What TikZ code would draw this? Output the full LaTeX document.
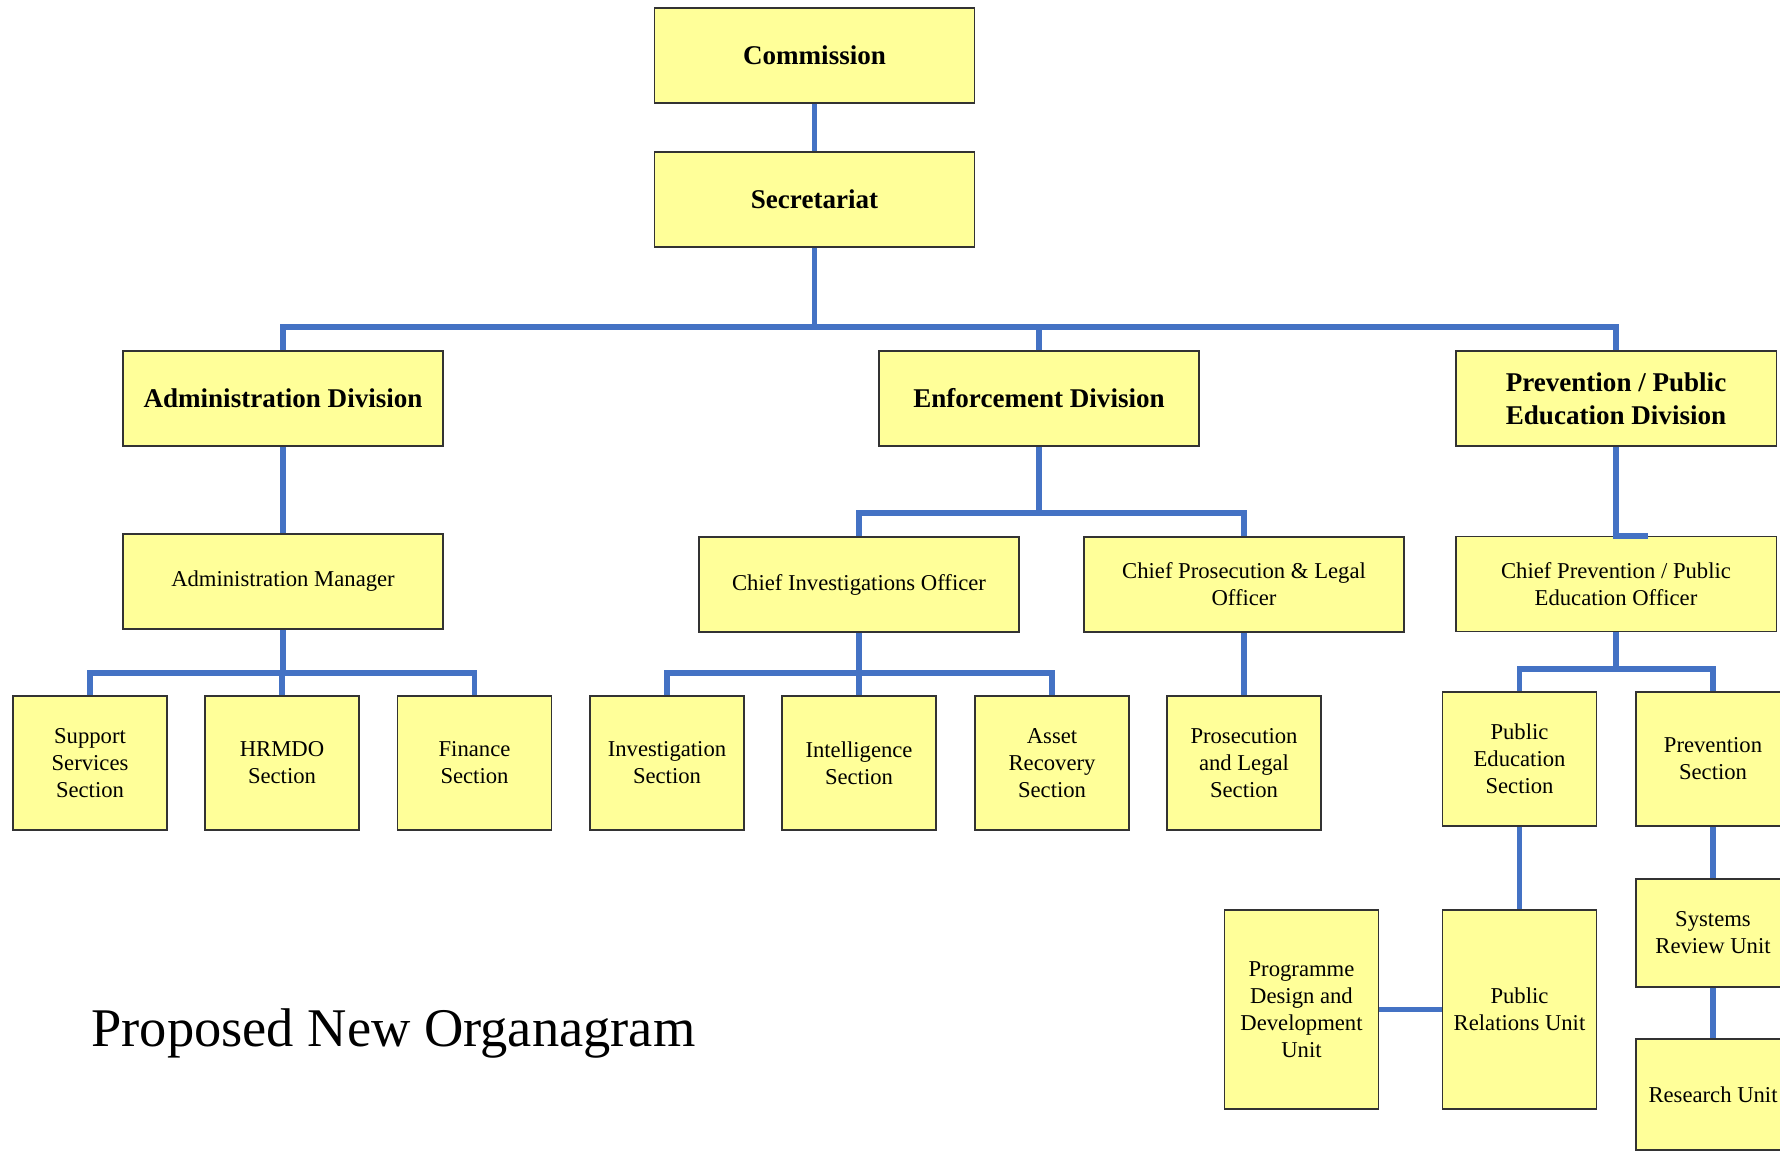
\documentclass[tikz,border=0pt]{standalone}
\usepackage{fontspec}
\setmainfont{Liberation Serif}
\usepackage{xcolor}
\usepackage{tikz}
\usetikzlibrary{positioning}
\definecolor{boxyellow}{RGB}{255,255,153}
\definecolor{linkblue}{RGB}{68,114,196}
\tikzset{
	unit/.style={draw=black!80,fill=boxyellow,line width=0.6pt,align=center,inner sep=0pt,minimum width=3.08cm,minimum height=2.68cm,font=\fontsize{12.9}{15.3}\selectfont},
	office/.style={unit,minimum width=6.4cm,minimum height=1.9cm},
	divbox/.style={office,font=\fontsize{15.4}{18.7}\selectfont\bfseries},
	link/.style={linkblue,line width=3pt}
}
\begin{document}
\begin{tikzpicture}
		\useasboundingbox (0,0) rectangle (35.6,23.04);
		\clip (0,0) rectangle (35.6,23.04);
		\coordinate (topbar) at (0,16.5);
		\coordinate (enfbar) at (0,12.78);
		\coordinate (admbar) at (0,9.58);
		\coordinate (invbar) at (0,9.58);
		\coordinate (prevbar) at (0,9.66);
		\coordinate (hook) at (32.96,12.32);
		\node[divbox] (com) at (16.29,21.93) {Commission};
		\node[divbox] (sec) at (16.29,19.05) {Secretariat};
		\node[divbox] (admdiv) at (5.66,15.07) {Administration Division};
		\node[divbox] (enfdiv) at (20.78,15.07) {Enforcement Division};
		\node[divbox] (prevdiv) at (32.32,15.07) {Prevention / Public\\Education Division};
		\node[office] (admmgr) at (5.66,11.41) {Administration Manager};
		\node[office] (cio) at (17.18,11.35) {Chief Investigations Officer};
		\node[office] (cplo) at (24.88,11.35) {Chief Prosecution \& Legal\\Officer};
		\node[office] (cpo) at (32.32,11.36) {Chief Prevention / Public\\Education Officer};
		\node[unit] (sss) at (1.80,7.78) {Support\\Services\\Section};
		\node[unit] (hrm) at (5.64,7.78) {HRMDO\\Section};
		\node[unit] (fin) at (9.49,7.78) {Finance\\Section};
		\node[unit] (inv) at (13.34,7.78) {Investigation\\Section};
		\node[unit] (intel) at (17.18,7.78) {Intelligence\\Section};
		\node[unit] (asset) at (21.04,7.78) {Asset\\Recovery\\Section};
		\node[unit] (pls) at (24.88,7.78) {Prosecution\\and Legal\\Section};
		\node[unit] (pes) at (30.39,7.86) {Public\\Education\\Section};
		\node[unit] (prevs) at (34.26,7.86) {Prevention\\Section};
		\node[unit,minimum height=3.98cm] (pru) at (30.39,2.85) {Public\\Relations Unit};
		\node[unit,minimum height=3.98cm] (pddu) at (26.03,2.85) {Programme\\Design and\\Development\\Unit};
		\node[unit,minimum height=2.16cm] (sru) at (34.26,4.38) {Systems\\Review Unit};
		\node[unit,minimum height=2.22cm] (ru) at (34.26,1.15) {Research Unit};
		\node[anchor=base west,inner sep=0pt,font=\fontsize{31}{36}\selectfont] (title) at (1.82,2.1) {Proposed New Organagram};
		\draw [link] (com) -- (sec);
		\draw [link] (sec.south) -- (sec.south |- topbar);
		\draw [link] (admdiv.north) -- (admdiv.north |- topbar) -- (prevdiv.north |- topbar) -- (prevdiv.north);
		\draw [link] (enfdiv.north) -- (enfdiv.north |- topbar);
		\draw [link] (admdiv) -- (admmgr);
		\draw [link] (enfdiv.south) -- (enfdiv.south |- enfbar);
		\draw [link] (cio.north) -- (cio.north |- enfbar) -- (cplo.north |- enfbar) -- (cplo.north);
		\draw [link] (prevdiv.south) |- (hook);
		\draw [link] (admmgr.south) -- (admmgr.south |- admbar);
		\draw [link] (sss.north) -- (sss.north |- admbar) -- (fin.north |- admbar) -- (fin.north);
		\draw [link] (hrm.north) -- (hrm.north |- admbar);
		\draw [link] (cio.south) -- (cio.south |- invbar);
		\draw [link] (inv.north) -- (inv.north |- invbar) -- (asset.north |- invbar) -- (asset.north);
		\draw [link] (intel.north) -- (intel.north |- invbar);
		\draw [link] (cplo) -- (pls);
		\draw [link] (cpo.south) -- (cpo.south |- prevbar);
		\draw [link] (pes.north) -- (pes.north |- prevbar) -- (prevs.north |- prevbar) -- (prevs.north);
		\draw [link] (pes) -- (pru);
		\draw [link] (pddu) -- (pru);
		\draw [link] (prevs) -- (sru);
		\draw [link] (sru) -- (ru);
	\end{tikzpicture}
\end{document}
